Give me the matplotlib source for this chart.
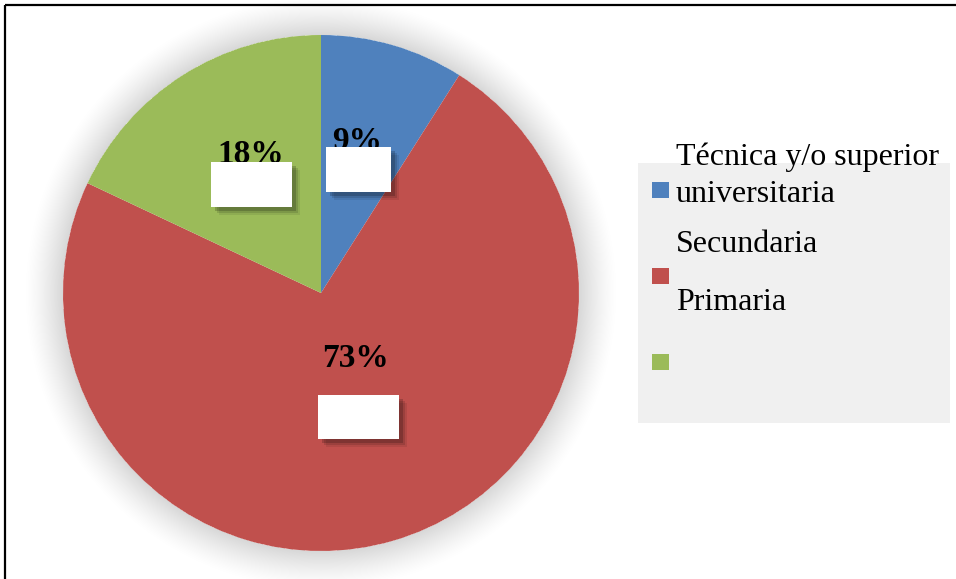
import matplotlib.pyplot as plt
import numpy as np
from matplotlib.patches import Rectangle

# nivel educativo
categories = ["Técnica y/o superior\nuniversitaria", "Secundaria", "Primaria"]
percent = [9, 73, 18]
colors = ["#4F81BD", "#C0504D", "#9BBB59"]

W, H = 956, 579
fig = plt.figure(figsize=(W / 100, H / 100), dpi=100)
ax = fig.add_axes([0, 0, 1, 1])

cx, cy, r = 321, 293, 258

# soft halo around the pie
yy, xx = np.mgrid[0:H, 0:W] + 0.5
d = np.hypot(xx - cx, yy - cy) - r
a = np.clip(1 - d / 40, 0, 1) ** 1.4 * 0.16
a[d < 0] = 0
halo = np.zeros((H, W, 4))
halo[..., 3] = a
ax.imshow(halo, extent=(0, W, H, 0), origin="upper", zorder=0, interpolation="bilinear")

ax.pie(percent, colors=colors, startangle=-90, counterclock=True,
       center=(cx, cy), radius=r, wedgeprops=dict(linewidth=0))

ax.set_xlim(0, W)
ax.set_ylim(H, 0)
ax.set_aspect("equal")
ax.axis("off")

# percentage labels with the white boxes under them
label_pos = [(357, 150), (356, 367), (251, 163)]
box_pos = [(326, 147, 65, 45), (318, 395, 81, 44), (211, 162, 81, 45)]
for v, (tx, ty), (bx, by, bw, bh) in zip(percent, label_pos, box_pos):
    ax.text(tx, ty, f"{v}%", ha="center", va="baseline", fontsize=24,
            fontweight="bold", family="Liberation Serif", zorder=5)
    for off, al in [(8, 0.08), (6, 0.12), (4, 0.18)]:
        ax.add_patch(Rectangle((bx + off, by + off), bw, bh, color="black",
                               alpha=al, lw=0, zorder=6))
    ax.add_patch(Rectangle((bx, by), bw, bh, color="white", lw=0, zorder=7))

# legend
ax.add_patch(Rectangle((638, 163), 312, 260, color="#F0F0F0", lw=0, zorder=3))
marker_y = [182, 268, 354]
text_y = [165, 252, 310]
for lab, c, my, ty in zip(categories, colors, marker_y, text_y):
    ax.add_patch(Rectangle((652, my), 17, 16, color=c, lw=0, zorder=4))
    ax.text(676, ty, lab.split("\n")[0], ha="left", va="baseline", fontsize=23,
            family="Liberation Serif", zorder=5)
    if "\n" in lab:
        ax.text(676, ty + 37, lab.split("\n")[1], ha="left", va="baseline",
                fontsize=23, family="Liberation Serif", zorder=5)

# outer frame
ax.add_patch(Rectangle((5, 5), 960, 590, fill=False, edgecolor="black",
                       lw=1.6, zorder=10, clip_on=False))

fig.savefig("out.png", dpi=100)
